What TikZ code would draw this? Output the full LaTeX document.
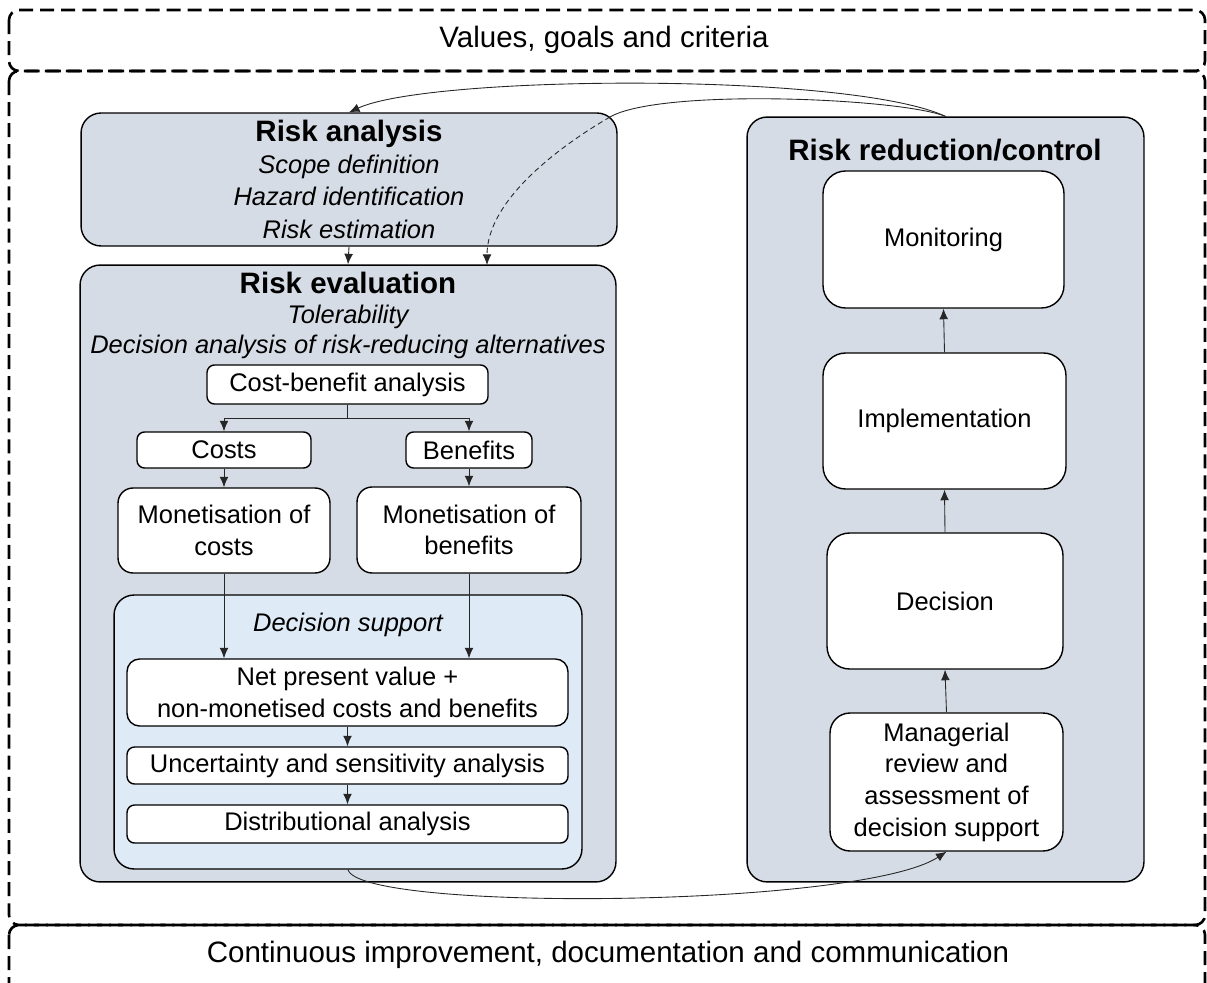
\documentclass[tikz,border=0pt]{standalone}
\usepackage{fontspec}
\setmainfont{Liberation Sans}
\usetikzlibrary{arrows.meta}
\definecolor{panelgray}{HTML}{D6DCE5}
\definecolor{supportblue}{HTML}{DEEAF6}
\begin{document}
\begin{tikzpicture}[x=0.02cm, y=-0.02cm,
    every node/.style={font=\fontsize{14.5}{18}\selectfont, align=center, inner sep=0pt},
    dashbox/.style={draw, line width=1.5pt, dash pattern=on 8pt off 4pt, rounded corners=0.2cm},
    panel/.style={draw, line width=0.8pt, fill=panelgray, rounded corners=0.4cm},
    whitebox/.style={draw, line width=0.8pt, fill=white, rounded corners=#1},
    whitebox/.default=0.15cm,
    title/.style={font=\fontsize{16.8}{20}\selectfont\bfseries},
    slanted/.style={font=\fontsize{14.5}{18}\selectfont\itshape},
    band/.style={font=\fontsize{16.8}{20}\selectfont},
    arr/.style={draw=black!85, line width=0.5pt, -{Latex[length=6pt,width=5pt]}}]
    \useasboundingbox (0,0) rectangle (1207,983);

    \draw[dashbox] (9,10) rectangle (1205,71);
    \draw[dashbox] (9,71) rectangle (1205,925);
    \draw[dashbox] (9,925) rectangle (1205,1010);
    \node[band] (values) at (604,40) {Values, goals and criteria};
    \node[band] (improve) at (608,955) {Continuous improvement, documentation and communication};

    \node[panel, minimum width=10.72cm, minimum height=2.66cm] (ra) at (349,179.5)
        {{\fontsize{16.8}{20}\selectfont\bfseries Risk analysis}\\[0pt]
         \itshape Scope definition\\[0.5pt] \itshape Hazard identification\\[0.5pt] \itshape Risk estimation};

    \node[panel, minimum width=10.72cm, minimum height=12.34cm] (re) at (348,573.5) {};
    \node[title] (retitle) at (348,283) {Risk evaluation};
    \node[slanted] (tol) at (348,317) {Tolerability};
    \node[slanted] (dana) at (348,347) {Decision analysis of risk-reducing alternatives};
    \node[whitebox, minimum width=5.62cm, minimum height=0.78cm] (cba) at (347.5,384.5) {Cost-benefit analysis};
    \node[whitebox, minimum width=3.48cm, minimum height=0.72cm] (costs) at (224,450) {Costs};
    \node[whitebox, minimum width=2.52cm, minimum height=0.72cm] (benefits) at (469,450) {Benefits};
    \node[whitebox=0.3cm, minimum width=4.24cm, minimum height=1.70cm] (monc) at (224,530.5) {Monetisation of\\costs};
    \node[whitebox=0.3cm, minimum width=4.48cm, minimum height=1.72cm] (monb) at (469,530) {Monetisation of\\benefits};

    \node[draw, line width=0.8pt, fill=supportblue, rounded corners=0.4cm, minimum width=9.36cm, minimum height=5.48cm] (ds) at (348,732) {};
    \node[slanted] (dstitle) at (348,625) {Decision support};
    \node[whitebox=0.25cm, minimum width=8.82cm, minimum height=1.34cm] (npv) at (347.5,692.5) {Net present value +\\non-monetised costs and benefits};
    \node[whitebox, minimum width=8.82cm, minimum height=0.74cm] (unc) at (347.5,765.5) {Uncertainty and sensitivity analysis};
    \node[whitebox, minimum width=8.82cm, minimum height=0.76cm] (dist) at (347.5,824) {Distributional analysis};

    \node[panel, minimum width=7.94cm, minimum height=15.30cm] (rr) at (945.5,499.5) {};
    \node[title] (rrtitle) at (945,150) {Risk reduction/control};
    \node[whitebox=0.45cm, minimum width=4.82cm, minimum height=2.74cm] (mon) at (943.5,239.5) {Monitoring};
    \node[whitebox=0.45cm, minimum width=4.86cm, minimum height=2.72cm] (impl) at (944.5,421) {Implementation};
    \node[whitebox=0.45cm, minimum width=4.72cm, minimum height=2.72cm] (dec) at (945,601) {Decision};
    \node[whitebox=0.4cm, minimum width=4.66cm, minimum height=2.76cm] (mgr) at (946.5,782) {Managerial\\review and\\assessment of\\decision support};

    \coordinate (racross) at (610,117);
    \coordinate (rein) at (487,265);

    \draw[arr] (ra.south) -- (re.north);
    \draw[arr] (rr.north) .. controls (850,72) and (430,75) .. (ra.north);
    \draw[draw=black!85, line width=0.5pt] (rr.north) .. controls (900,98) and (660,88) .. (racross);
    \draw[arr, dash pattern=on 3pt off 2pt] (racross) .. controls (560,146) and (487,200) .. (rein);
    \draw[arr] (cba.south) -- ++(0,14) -| (costs.north);
    \draw[arr] (cba.south) -- ++(0,14) -| (benefits.north);
    \draw[arr] (costs.south) -- (monc.north);
    \draw[arr] (benefits.south) -- (monb.north);
    \draw[arr] (monc.south) -- (monc.south |- npv.north);
    \draw[arr] (monb.south) -- (monb.south |- npv.north);
    \draw[arr] (npv.south) -- (unc.north);
    \draw[arr] (unc.south) -- (dist.north);
    \draw[arr] (ds.south) .. controls (360,912) and (860,908) .. (mgr.south);
    \draw[arr] (mgr.north) -- (dec.south);
    \draw[arr] (dec.north) -- (impl.south);
    \draw[arr] (impl.north) -- (mon.south);
\end{tikzpicture}
\end{document}
